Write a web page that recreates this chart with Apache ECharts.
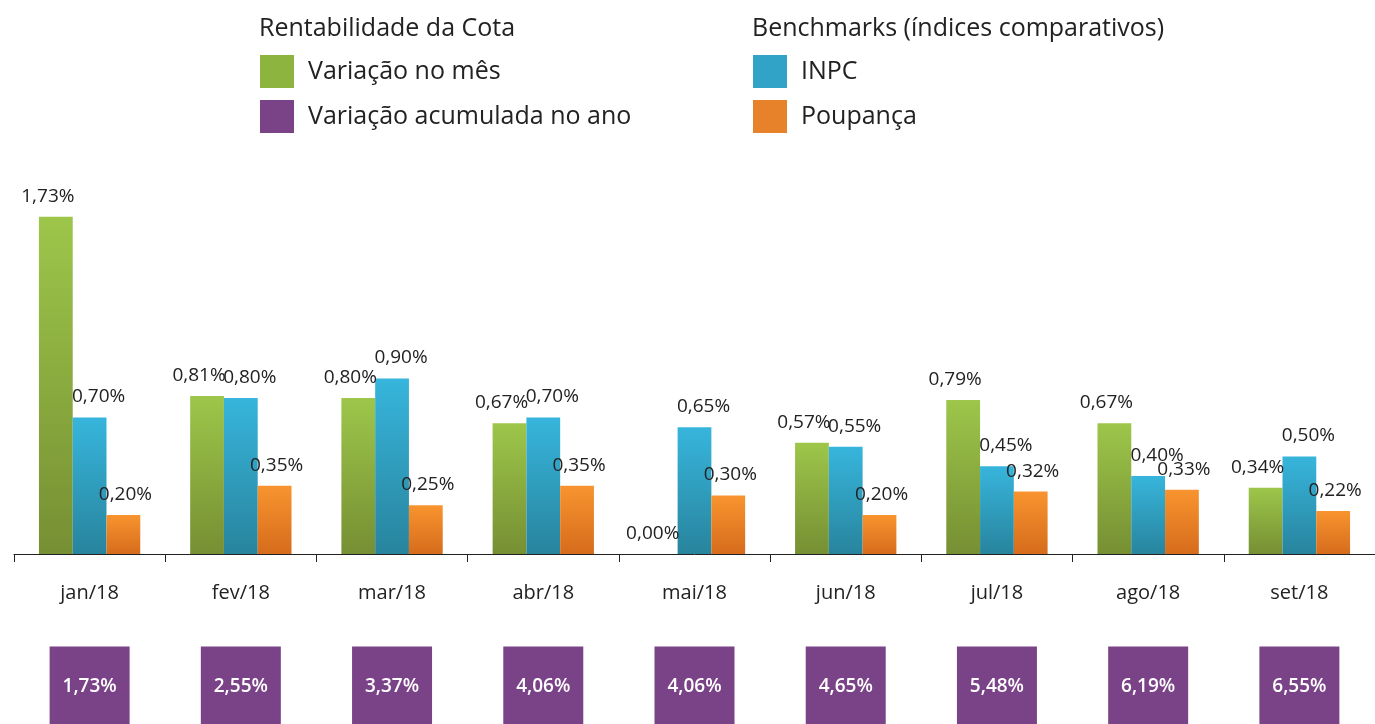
<!DOCTYPE html>
<html>
<head>
<meta charset="utf-8">
<script src="https://cdn.jsdelivr.net/npm/echarts@6/dist/echarts.min.js"></script>
<style>html,body{margin:0;padding:0;background:#fff;}#c{width:1375px;height:724px;}</style>
</head>
<body>
<div id="c"></div>
<script>
const categories = ['jan/18','fev/18','mar/18','abr/18','mai/18','jun/18','jul/18','ago/18','set/18'];
const variacaoMes = [1.73, 0.81, 0.80, 0.67, 0.00, 0.57, 0.79, 0.67, 0.34];
const inpc = [0.70, 0.80, 0.90, 0.70, 0.65, 0.55, 0.45, 0.40, 0.50];
const poupanca = [0.20, 0.35, 0.25, 0.35, 0.30, 0.20, 0.32, 0.33, 0.22];
const acumulada = [1.73, 2.55, 3.37, 4.06, 4.06, 4.65, 5.48, 6.19, 6.55];

const FONT = 'Open Sans';
const fmt = v => v.toFixed(2).replace('.', ',') + '%';
const grad = (a, b) => new echarts.graphic.LinearGradient(0, 0, 0, 1, [{offset: 0, color: a}, {offset: 1, color: b}]);

const chart = echarts.init(document.getElementById('c'));
const barLabel = (dx) => ({
  show: true, position: 'top', distance: 11, offset: [dx, 0],
  fontFamily: FONT, fontSize: 19, color: '#222',
  formatter: p => fmt(p.value)
});
const legendText = {fontFamily: FONT, fontSize: 25, color: '#222', padding: [0, 0, 0, 9]};
chart.setOption({
  animation: false,
  textStyle: {fontFamily: FONT},
  title: [
    {text: 'Rentabilidade da Cota', left: 259, top: 16, padding: 0,
     textStyle: {fontFamily: FONT, fontSize: 25, fontWeight: 'normal', color: '#222'}},
    {text: 'Benchmarks (índices comparativos)', left: 752, top: 16, padding: 0,
     textStyle: {fontFamily: FONT, fontSize: 25, fontWeight: 'normal', color: '#222'}}
  ],
  legend: [
    {left: 260, top: 55, orient: 'vertical', padding: 0, itemWidth: 34, itemHeight: 33, itemGap: 12,
     icon: 'rect', selectedMode: false, textStyle: legendText,
     data: [{name: 'Variação no mês', itemStyle: {color: '#8db43f'}},
            {name: 'Variação acumulada no ano', itemStyle: {color: '#7b4387'}}]},
    {left: 753, top: 55, orient: 'vertical', padding: 0, itemWidth: 34, itemHeight: 33, itemGap: 12,
     icon: 'rect', selectedMode: false, textStyle: legendText,
     data: [{name: 'INPC', itemStyle: {color: '#31a3c6'}},
            {name: 'Poupança', itemStyle: {color: '#e7822a'}}]}
  ],
  grid: [
    {left: 14, width: 1368, top: 164, height: 390},
    {left: 14, width: 1368, top: 649, height: 80}
  ],
  xAxis: [
    {type: 'category', gridIndex: 0, data: categories,
     axisLine: {show: true, lineStyle: {color: '#222', width: 1}},
     axisTick: {show: true, length: 8, lineStyle: {color: '#222'}},
     axisLabel: {fontFamily: FONT, fontSize: 20, color: '#222', margin: 29}},
    {type: 'category', gridIndex: 1, data: categories, show: false}
  ],
  yAxis: [
    {type: 'value', gridIndex: 0, min: 0, max: 2, show: false, splitLine: {show: false}},
    {type: 'value', gridIndex: 1, min: -1, max: 1, show: false, splitLine: {show: false}}
  ],
  series: [
    {name: 'Variação no mês', type: 'bar', data: variacaoMes, barGap: '0%', barCategoryGap: '33%',
     itemStyle: {color: grad('#9dc64a', '#768f33')}, label: barLabel(-8)},
    {name: 'INPC', type: 'bar', data: inpc,
     itemStyle: {color: grad('#37b5dc', '#28849d')}, label: barLabel(9)},
    {name: 'Poupança', type: 'bar', data: poupanca,
     itemStyle: {color: grad('#f8942f', '#d66c1c')}, label: barLabel(2)},
    {name: 'Variação acumulada no ano', type: 'scatter', xAxisIndex: 1, yAxisIndex: 1,
     symbol: 'rect', symbolSize: [80, 80],
     data: acumulada.map((v, i) => [i, 0, v]),
     itemStyle: {color: '#7b4387', opacity: 1},
     label: {show: true, position: 'inside', fontFamily: FONT, fontSize: 19, fontWeight: 600,
             color: '#fff', formatter: p => fmt(p.value[2])}}
  ]
});
</script>
</body>
</html>
